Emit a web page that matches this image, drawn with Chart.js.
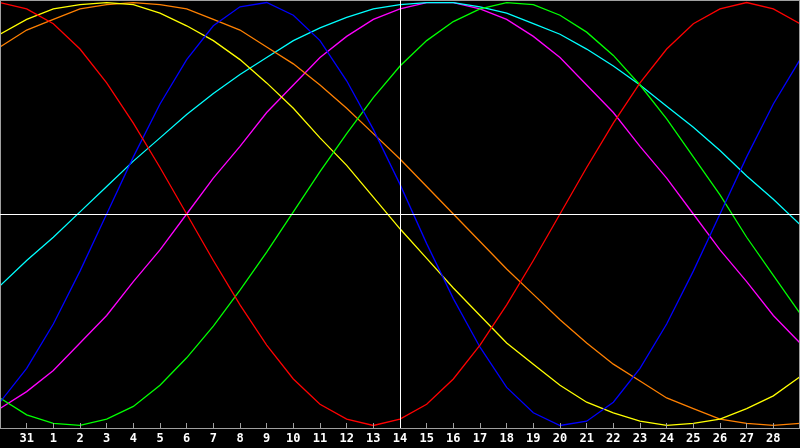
<!DOCTYPE html>
<html>
<head>
<meta charset="utf-8">
<script src="https://cdn.jsdelivr.net/npm/chart.js@4.4.0/dist/chart.umd.min.js"></script>
<style>
html, body { margin: 0; padding: 0; background: #000; }
</style>
</head>
<body>
<canvas id="grafico" width="800" height="448"></canvas>
<script>
// dias del eje (el primero y el ultimo no llevan etiqueta)
var dias = ['30','31','1','2','3','4','5','6','7','8','9','10','11','12','13','14',
            '15','16','17','18','19','20','21','22','23','24','25','26','27','28','29'];
var hoy = '14';

var rojo     = [1.00,0.97,0.90,0.78,0.62,0.43,0.22,0,-0.22,-0.43,-0.62,-0.78,-0.90,-0.97,-1.00,-0.97,
                -0.90,-0.78,-0.62,-0.43,-0.22,0,0.22,0.43,0.62,0.78,0.90,0.97,1.00,0.97,0.90];
var azul     = [-0.89,-0.73,-0.52,-0.27,0,0.27,0.52,0.73,0.89,0.98,1.00,0.94,0.82,0.63,0.40,0.14,
                -0.14,-0.40,-0.63,-0.82,-0.94,-1.00,-0.98,-0.89,-0.73,-0.52,-0.27,0,0.27,0.52,0.73];
var verde    = [-0.87,-0.95,-0.99,-1.00,-0.97,-0.91,-0.81,-0.68,-0.53,-0.36,-0.18,0.01,0.20,0.38,0.55,0.70,
                0.82,0.91,0.97,1.00,0.99,0.94,0.86,0.75,0.61,0.45,0.27,0.09,-0.11,-0.29,-0.47];
var amarillo = [0.85,0.92,0.97,0.99,1.00,0.99,0.95,0.89,0.82,0.73,0.62,0.50,0.36,0.23,0.08,-0.07,
                -0.21,-0.35,-0.48,-0.61,-0.71,-0.81,-0.89,-0.94,-0.98,-1.00,-0.99,-0.97,-0.92,-0.86,-0.77];
var naranja  = [0.79,0.87,0.92,0.97,0.99,1.00,0.99,0.97,0.92,0.87,0.79,0.71,0.61,0.50,0.38,0.26,
                0.13,0,-0.13,-0.26,-0.38,-0.50,-0.61,-0.71,-0.79,-0.87,-0.92,-0.97,-0.99,-1.00,-0.99];
var celeste  = [-0.34,-0.22,-0.11,0.01,0.13,0.25,0.36,0.47,0.57,0.66,0.74,0.82,0.88,0.93,0.97,0.99,
                1.00,1.00,0.98,0.95,0.90,0.85,0.78,0.70,0.61,0.51,0.41,0.30,0.18,0.07,-0.05];
var magenta  = [-0.92,-0.84,-0.74,-0.61,-0.48,-0.32,-0.17,0,0.17,0.32,0.48,0.61,0.74,0.84,0.92,0.97,
                1.00,1.00,0.97,0.92,0.84,0.74,0.61,0.48,0.32,0.17,0,-0.17,-0.32,-0.48,-0.61];

var marco = {
    id: 'marco',
    beforeDraw: function(chart){
        var ctx = chart.ctx;
        ctx.save();
        ctx.fillStyle = '#000';
        ctx.fillRect(0, 0, chart.width, chart.height);
        ctx.restore();
    },
    afterDatasetsDraw: function(chart){
        var ctx = chart.ctx;
        var a = chart.chartArea;
        var sx = chart.scales.x;
        var sy = chart.scales.y;
        ctx.save();
        ctx.lineWidth = 1;
        ctx.strokeStyle = '#a0a0a0';
        ctx.strokeRect(a.left + 0.5, a.top + 0.5, a.right - a.left - 1, a.bottom - a.top);
        ctx.beginPath();
        for (var i = 1; i < dias.length - 1; i++) {
            var px = Math.floor(sx.getPixelForValue(i)) + 0.5;
            ctx.moveTo(px, a.bottom - 5);
            ctx.lineTo(px, a.bottom);
        }
        ctx.stroke();
        // cruz del dia actual
        var cx = Math.floor(sx.getPixelForValue(dias.indexOf(hoy))) + 0.5;
        var cy = Math.floor(sy.getPixelForValue(0)) + 0.5;
        ctx.strokeStyle = '#fff';
        ctx.beginPath();
        ctx.moveTo(cx, a.top);
        ctx.lineTo(cx, a.bottom);
        ctx.moveTo(a.left, cy);
        ctx.lineTo(a.right, cy);
        ctx.stroke();
        ctx.restore();
    }
};

function serie(datos, color){
    return {
        data: datos,
        borderColor: color,
        borderWidth: 1.3,
        pointRadius: 0,
        pointHoverRadius: 0,
        tension: 0,
        fill: false
    };
}

function crearGrafico(id){
    var ctx = document.getElementById(id);
    var myChart = new Chart(ctx, {
        type: 'line',
        data: {
            labels: dias,
            datasets: [
                serie(rojo, '#ff0000'),
                serie(azul, '#0000ff'),
                serie(verde, '#00ff00'),
                serie(amarillo, '#ffff00'),
                serie(naranja, '#ff8000'),
                serie(celeste, '#00ffff'),
                serie(magenta, '#ff00ff')
            ]
        },
        options: {
            responsive: false,
            animation: false,
            devicePixelRatio: 1,
            layout: { padding: 0, autoPadding: false },
            plugins: {
                legend: { display: false },
                tooltip: { enabled: false }
            },
            scales: {
                x: {
                    grid: { display: false, drawTicks: false },
                    border: { display: false },
                    ticks: {
                        color: '#fff',
                        font: { family: 'DejaVu Sans Mono', size: 12, weight: 'bold', lineHeight: 1.8 },
                        padding: 0,
                        maxRotation: 0,
                        autoSkip: false,
                        callback: function(v, i){
                            return (i == 0 || i == dias.length - 1) ? '' : dias[i];
                        }
                    },
                    afterFit: function(s){ s.height = 20; }
                },
                y: {
                    display: false,
                    min: -1.012,
                    max: 1.012
                }
            }
        },
        plugins: [marco]
    });
}

crearGrafico('grafico');
</script>
</body>
</html>
